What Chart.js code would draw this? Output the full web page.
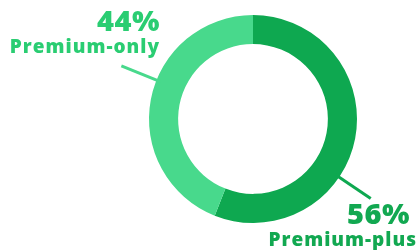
<!DOCTYPE html>
<html>
<head>
<meta charset="utf-8">
<script src="https://cdn.jsdelivr.net/npm/chart.js@4"></script>
<style>
  html, body { margin: 0; padding: 0; background: #fff; }
  #wrap { width: 420px; height: 250px; position: relative; }
</style>
</head>
<body>
<div id="wrap"><canvas id="c"></canvas></div>
<script>
// ── Data ──────────────────────────────────────────────────────────────────────
const categories = ['Premium-plus', 'Premium-only'];
const shares     = [56, 44];
const colors     = ['#0ea850', '#48d98c'];
const textColors = ['#12a851', '#2acd72'];

// ── Labels with leader lines ──────────────────────────────────────────────────
// angle: degrees clockwise from 12 o'clock where the leader leaves the ring
const labelSpots = [
  { angle: 124, line: [4, 38], pct: [410, 224], name: [416, 246] },
  { angle: 292, line: [4, 38], pct: [160, 31],  name: [159, 53]  },
];

const leaderPlugin = {
  id: 'leaders',
  afterDraw(chart) {
    const { ctx } = chart;
    const arc = chart.getDatasetMeta(0).data[0];
    const cx = arc.x, cy = arc.y, r = arc.outerRadius;

    labelSpots.forEach((s, i) => {
      const a = (s.angle - 90) * Math.PI / 180;
      const r0 = r - s.line[0], r1 = r + s.line[1];
      ctx.save();
      ctx.strokeStyle = colors[i];
      ctx.lineWidth = 3;
      ctx.beginPath();
      ctx.moveTo(cx + Math.cos(a) * r0, cy + Math.sin(a) * r0);
      ctx.lineTo(cx + Math.cos(a) * r1, cy + Math.sin(a) * r1);
      ctx.stroke();

      ctx.fillStyle = textColors[i];
      ctx.textAlign = 'right';
      ctx.textBaseline = 'alphabetic';
      ctx.font = '800 29px "Open Sans", sans-serif';
      ctx.letterSpacing = '0.5px';
      ctx.fillText(shares[i] + '%', s.pct[0], s.pct[1]);
      ctx.font = '800 19px "Open Sans", sans-serif';
      ctx.letterSpacing = '1px';
      ctx.fillText(categories[i], s.name[0] + 1, s.name[1]);
      ctx.restore();
    });
  },
};

new Chart(document.getElementById('c'), {
  type: 'doughnut',
  data: {
    labels: categories,
    datasets: [{
      data:            shares,
      backgroundColor: colors,
      borderWidth:     0,
      hoverOffset:     0,
    }],
  },
  options: {
    responsive:          true,
    maintainAspectRatio: false,
    animation:           false,
    cutout:              '72%',
    layout: { padding: { left: 149, right: 63, top: 15, bottom: 27 } },
    plugins: {
      legend:  { display: false },
      tooltip: { enabled: false },
    },
  },
  plugins: [leaderPlugin],
});
</script>
</body>
</html>
